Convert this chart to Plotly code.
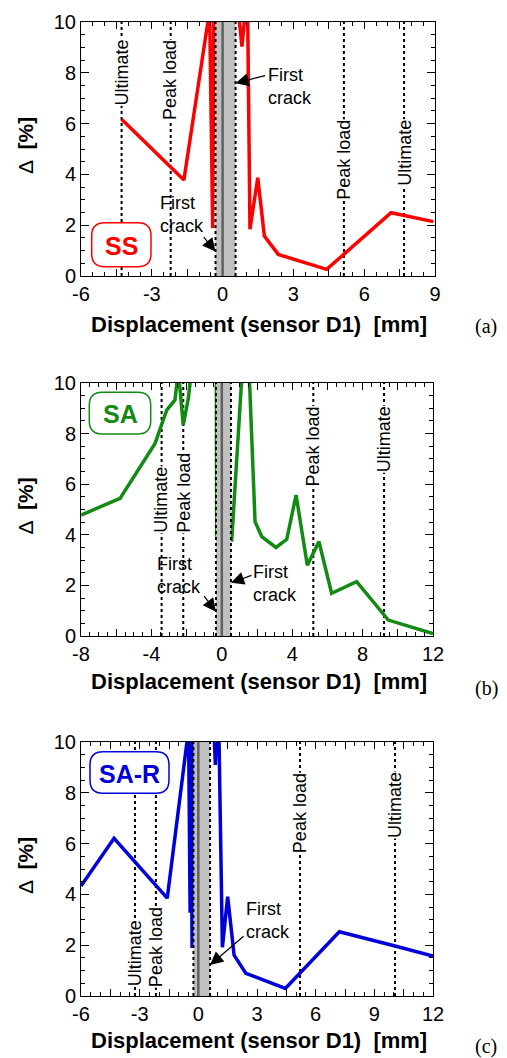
import plotly.graph_objects as go
import numpy as np

W, H = 507, 1058
OFF = 8  # page body margin
FW, FH = W - 2 * OFF, H - OFF

# ---------------- data ----------------
# Panel (a) SS
ss_x = [-4.28, -1.64, -0.65, -0.55, -0.42, -0.37, 0.66, 0.82, 0.97, 1.06, 1.16, 1.49, 1.77, 2.36, 4.41, 7.14, 8.93]
ss_y = [6.17, 3.78, 9.84, 10.5, 1.88, 10.5, 10.5, 9.03, 10.5, 10.5, 1.84, 3.87, 1.57, 0.85, 0.26, 2.49, 2.14]
ss_ultimate = [-4.28, 7.69]
ss_peak = [-2.2, 5.14]
ss_first_crack = [-0.3, 0.55]

# Panel (b) SA
sa_x = [-8.0, -5.78, -3.8, -3.13, -2.66, -2.47, -2.19, -1.9, -1.72, -0.31, -0.29, None,
        0.56, 1.16, 1.55, 1.89, 2.27, 3.08, 3.69, 4.22, 4.86, 5.52, 6.24, 7.66, 9.46, 12.0]
sa_y = [4.78, 5.44, 7.6, 8.93, 9.33, 10.5, 8.34, 9.4, 10.5, 10.5, 3.92, None,
        3.73, 10.5, 10.5, 4.52, 3.93, 3.5, 3.82, 5.57, 2.8, 3.73, 1.69, 2.15, 0.63, 0.1]
sa_ultimate = [-3.42, 9.22]
sa_peak = [-2.19, 5.2]
sa_first_crack = [-0.33, 0.52]

# Panel (c) SA-R
sar_x = [-6.0, -4.31, -1.59, -0.59, -0.5, -0.42, -0.38, -0.32, -0.28, 0.8, 0.87, 0.94, 1.05, 1.23,
         1.5, 1.83, 2.43, 4.45, 7.21, 10.06, 12.0]
sar_y = [4.33, 6.21, 3.85, 9.88, 10.5, 3.28, 10.5, 1.89, 10.5, 10.5, 9.1, 10.5, 10.5, 1.92,
         3.91, 1.61, 0.89, 0.3, 2.53, 1.97, 1.57]
sar_ultimate = [-3.24, 10.06]
sar_peak = [-2.17, 5.2]
sar_first_crack = [-0.25, 0.6]

xticks_a = [-6, -3, 0, 3, 6, 9]
xticks_b = [-8, -4, 0, 4, 8, 12]
xticks_c = [-6, -3, 0, 3, 6, 9, 12]
yticks = [0, 2, 4, 6, 8, 10]

# ---------------- layout geometry (window pixels) ----------------
FONT = "Arial, 'Liberation Sans', sans-serif"
SERIF = "'Times New Roman', 'Liberation Serif', serif"

panels = [
    dict(name="SS", color="#ff0000", x=ss_x, y=ss_y, ult=ss_ultimate, peak=ss_peak, fc=ss_first_crack,
         xr=[-6, 9], ticks=xticks_a, px=(81, 435), py=(22, 276), letter="(a)", title_dy=48, letter_dy=51,
         box=(91.7, 222.7, 151, 266.7),
         ult_y=[8.0, 4.86], peak_y=[7.7, 4.57],
         fc_notes=[dict(head=0, hy=0.96, tx=182, ty=214, ax=-13, ay=-16),
                   dict(head=1, hy=7.59, tx=290, ty=86, ax=31, ay=-8)]),
    dict(name="SA", color="#138a13", x=sa_x, y=sa_y, ult=sa_ultimate, peak=sa_peak, fc=sa_first_crack,
         xr=[-8, 12], ticks=xticks_b, px=(81, 433), py=(383, 636), letter="(b)", title_dy=45, letter_dy=52,
         box=(89.3, 392.3, 150.7, 434),
         ult_y=[5.37, 7.78], peak_y=[5.67, 7.5],
         fc_notes=[dict(head=0, hy=0.96, tx=179, ty=575, ax=-13, ay=-17),
                   dict(head=1, hy=2.1, tx=275, ty=583, ax=22, ay=-8)]),
    dict(name="SA-R", color="#0000d8", x=sar_x, y=sar_y, ult=sar_ultimate, peak=sar_peak, fc=sar_first_crack,
         xr=[-6, 12], ticks=xticks_c, px=(81, 433), py=(742, 996), letter="(c)", title_dy=44, letter_dy=50,
         box=(90, 751.7, 169, 793.3),
         ult_y=[1.68, 7.52], peak_y=[1.92, 7.2],
         fc_notes=[dict(head=1, hy=1.22, tx=268, ty=920, ax=35, ay=-30)]),
]


def pxx(p):
    return (p - OFF) / FW


def pyy(p):
    return 1 - (p - OFF) / FH


fig = go.Figure()
shapes = []
annotations = []


def note(x, y, text, size, family=FONT, color="black", angle=0, **kw):
    annotations.append(dict(x=pxx(x), y=pyy(y), xref="paper", yref="paper", text=text,
                            showarrow=False, xanchor="center", yanchor="middle", textangle=angle,
                            font=dict(family=family, size=size, color=color), **kw))


for i, P in enumerate(panels):
    k = "" if i == 0 else str(i + 1)
    xa, ya = "x" + k, "y" + k
    fig.add_trace(go.Scatter(x=P["x"], y=P["y"], mode="lines", xaxis=xa, yaxis=ya,
                             line=dict(color=P["color"], width=3.5), showlegend=False,
                             hoverinfo="skip"))
    x0, x1 = P["xr"]
    step = (P["ticks"][1] - P["ticks"][0]) / 2
    tv = list(np.arange(x0, x1 + 1e-9, step))
    tt = [(str(int(round(v))) if any(abs(v - t) < 1e-9 for t in P["ticks"]) else "") for v in tv]
    axcommon = dict(showline=True, linecolor="black", linewidth=1, mirror="ticks", ticks="inside",
                    tickcolor="black", tickwidth=1, showgrid=False, zeroline=False, automargin=False,
                    tickfont=dict(family=FONT, size=20, color="black"))
    fig.layout["xaxis" + k] = dict(axcommon, domain=[pxx(P["px"][0]), pxx(P["px"][1])], range=[x0, x1],
                                   anchor=ya, tickmode="array", tickvals=tv, ticktext=tt, ticklen=7,
                                   minor=dict(tickmode="linear", tick0=0, dtick=0.5, ticks="inside",
                                              ticklen=4, tickcolor="black"))
    fig.layout["yaxis" + k] = dict(axcommon, domain=[pyy(P["py"][1]), pyy(P["py"][0])], range=[0, 10],
                                   anchor=xa, tickmode="array", tickvals=yticks,
                                   ticktext=[str(v) for v in yticks], ticklen=8,
                                   minor=dict(tickmode="linear", tick0=0, dtick=0.5, ticks="inside",
                                              ticklen=4, tickcolor="black"))
    # first crack band
    fc0, fc1 = P["fc"]
    shapes.append(dict(type="rect", xref=xa, yref=ya, x0=fc0, x1=fc1, y0=0, y1=10,
                       fillcolor="#c0c0c0", line=dict(width=0), layer="above"))
    shapes.append(dict(type="line", xref=xa, yref=ya, x0=0, x1=0, y0=0, y1=10,
                       line=dict(color="#606060", width=2.5), layer="above"))
    for v in P["fc"]:
        shapes.append(dict(type="line", xref=xa, yref=ya, x0=v, x1=v, y0=0, y1=10,
                           line=dict(color="black", width=2, dash="3px,3px"), layer="above"))
    for v in P["ult"] + P["peak"]:
        shapes.append(dict(type="line", xref=xa, yref=ya, x0=v, x1=v, y0=0, y1=10,
                           line=dict(color="black", width=2, dash="3px,3px"), layer="below"))
    for v, yy in zip(P["ult"], P["ult_y"]):
        annotations.append(dict(x=v, y=yy, xref=xa, yref=ya, text="Ultimate", showarrow=False,
                                textangle=-90, bgcolor="white", borderpad=0,
                                xanchor="center", yanchor="middle",
                                font=dict(family=FONT, size=18, color="black")))
    for v, yy in zip(P["peak"], P["peak_y"]):
        annotations.append(dict(x=v, y=yy, xref=xa, yref=ya, text="Peak load", showarrow=False,
                                textangle=-90, bgcolor="white", borderpad=0,
                                xanchor="center", yanchor="middle",
                                font=dict(family=FONT, size=18, color="black")))
    # first crack notes
    for n in P["fc_notes"]:
        annotations.append(dict(x=P["fc"][n["head"]], y=n["hy"], xref=xa, yref=ya, text="",
                                showarrow=True, arrowhead=2, arrowsize=2.2, arrowwidth=1.2,
                                arrowcolor="black", ax=n["ax"], ay=n["ay"]))
        note(n["tx"], n["ty"], "First<br>crack", 18, align="left")
    # rounded label box
    bx0, by0, bx1, by1 = P["box"]
    r = 13
    pts = [("M", bx0 + r, by0), ("L", bx1 - r, by0), ("Q", bx1, by0, bx1, by0 + r),
           ("L", bx1, by1 - r), ("Q", bx1, by1, bx1 - r, by1), ("L", bx0 + r, by1),
           ("Q", bx0, by1, bx0, by1 - r), ("L", bx0, by0 + r), ("Q", bx0, by0, bx0 + r, by0)]
    path = ""
    for p in pts:
        coords = p[1:]
        s = []
        for j in range(0, len(coords), 2):
            s.append(f"{pxx(coords[j]):.5f},{pyy(coords[j+1]):.5f}")
        path += p[0] + " " + " ".join(s) + " "
    path += "Z"
    shapes.append(dict(type="path", xref="paper", yref="paper", path=path,
                       line=dict(color=P["color"], width=1.5), fillcolor="white", layer="above"))
    note((bx0 + bx1) / 2, (by0 + by1) / 2 + 1, "<b>" + P["name"] + "</b>", 25, color=P["color"])
    # axis titles
    cy = (P["py"][0] + P["py"][1]) / 2
    note(25, cy - 3, "Δ  <b>[%]</b>", 21, angle=-90)
    note(259, P["py"][1] + P["title_dy"], "<b>Displacement (sensor D1)\u00a0\u00a0[mm]</b>", 22)
    note(486, P["py"][1] + P["letter_dy"], P["letter"], 20, family=SERIF)

fig.update_layout(width=FW, height=FH, margin=dict(l=0, r=0, t=0, b=0, autoexpand=False),
                  plot_bgcolor="white", paper_bgcolor="white",
                  shapes=shapes, annotations=annotations, showlegend=False)

fig.write_html("out.html")
